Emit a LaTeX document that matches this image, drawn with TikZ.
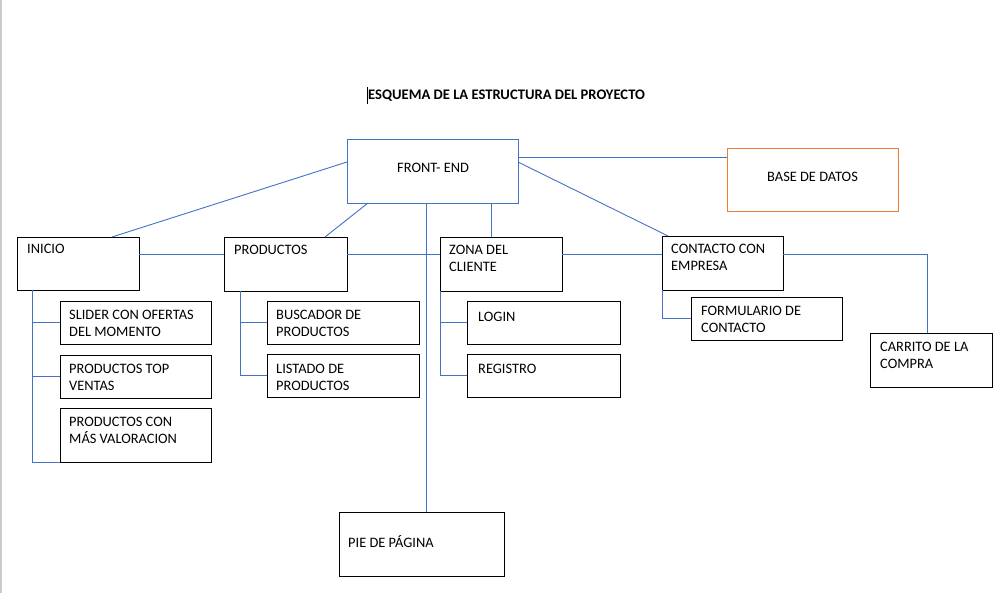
\documentclass[tikz,border=0pt]{standalone}
\usepackage{fontspec}
\setmainfont{Carlito}
\usetikzlibrary{calc}
\definecolor{lnblue}{HTML}{4472C4}
\definecolor{orng}{HTML}{ED7D31}
\tikzset{
  bbox/.style={draw=black, line width=0.9pt, inner sep=0pt, outer sep=0pt, anchor=north west, fill=white},
  febox/.style={bbox, draw=lnblue},
  dbbox/.style={bbox, draw=orng},
  lbl/.style={anchor=base west, inner sep=0pt, align=left, font=\fontsize{14.4}{17}\selectfont},
  conn/.style={draw=lnblue, line width=0.9pt},
}
\begin{document}
\begin{tikzpicture}[x=1pt,y=-1pt]
\useasboundingbox (0,0) rectangle (1003,593);
\fill[white] (0,0) rectangle (1003,593);
\fill[black!20] (0,0) rectangle (2,593);

% title
\node[lbl, font=\fontsize{14.6}{17}\selectfont\bfseries] (title) at (368,100) {ESQUEMA DE LA ESTRUCTURA DEL PROYECTO};
\draw[black, line width=0.8pt] (367,87) -- (367,104);

% boxes
\node[febox, minimum width=171, minimum height=64] (fe) at (347,139) {};
\node[dbbox, minimum width=171, minimum height=63] (bd) at (727,148) {};
\node[bbox, minimum width=122, minimum height=53] (ini) at (17,237) {};
\node[bbox, minimum width=123, minimum height=54] (prod) at (224,237) {};
\node[bbox, minimum width=122, minimum height=54] (zona) at (440,237) {};
\node[bbox, minimum width=121, minimum height=54] (cont) at (662,236) {};
\node[bbox, minimum width=151, minimum height=43] (sl) at (60,301) {};
\node[bbox, minimum width=151, minimum height=43] (top) at (60,355) {};
\node[bbox, minimum width=151, minimum height=54] (val) at (60,408) {};
\node[bbox, minimum width=152, minimum height=43] (bus) at (267,301) {};
\node[bbox, minimum width=152, minimum height=43] (lis) at (267,354) {};
\node[bbox, minimum width=153, minimum height=43] (log) at (467,301) {};
\node[bbox, minimum width=153, minimum height=43] (reg) at (467,354) {};
\node[bbox, minimum width=151, minimum height=43] (form) at (691,297) {};
\node[bbox, minimum width=122, minimum height=54] (car) at (870,333) {};
\node[bbox, minimum width=165, minimum height=64] (pie) at (339,512) {};

% texts (base anchor = baseline of last line)
\node[lbl] (tfe) at (397,173) {FRONT- END};
\node[lbl] (tbd) at (767,182) {BASE DE DATOS};
\node[lbl] (tini) at ($(ini.north west)+(10,17)$) {INICIO};
\node[lbl] (tprod) at ($(prod.north west)+(10,18)$) {PRODUCTOS};
\node[lbl] (tzona) at ($(zona.north west)+(9,35)$) {ZONA DEL\\CLIENTE};
\node[lbl] (tcont) at ($(cont.north west)+(9,35)$) {CONTACTO CON\\EMPRESA};
\node[lbl] (tsl) at ($(sl.north west)+(9,35)$) {SLIDER CON OFERTAS\\DEL MOMENTO};
\node[lbl] (ttop) at ($(top.north west)+(9,35)$) {PRODUCTOS TOP\\VENTAS};
\node[lbl] (tval) at ($(val.north west)+(9,35)$) {PRODUCTOS CON\\MÁS VALORACION};
\node[lbl] (tbus) at ($(bus.north west)+(9,35)$) {BUSCADOR DE\\PRODUCTOS};
\node[lbl] (tlis) at ($(lis.north west)+(9,36)$) {LISTADO DE\\PRODUCTOS};
\node[lbl] (tlog) at ($(log.north west)+(11,20)$) {LOGIN};
\node[lbl] (treg) at ($(reg.north west)+(11,19)$) {REGISTRO};
\node[lbl] (tform) at ($(form.north west)+(10,35)$) {FORMULARIO DE\\CONTACTO};
\node[lbl] (tcar) at ($(car.north west)+(10,35)$) {CARRITO DE LA\\COMPRA};
\node[lbl] (tpie) at (348,547) {PIE DE PÁGINA};

% connectors from FRONT-END
\draw[conn] ($(fe.north west)+(0,23)$) -- ($(ini.north west)+(95,0)$);
\draw[conn] ($(fe.south west)+(21,0)$) -- ($(prod.north west)+(101,0)$);
\draw[conn] ($(fe.south west)+(79,0)$) -- ($(pie.north west)+(87,0)$);
\draw[conn] ($(fe.south west)+(144,0)$) -- ($(zona.north west)+(51,0)$);
\draw[conn] ($(fe.north east)+(0,18)$) -- ($(bd.north west)+(0,9)$);
\draw[conn] ($(fe.north east)+(0,23)$) -- ($(cont.north west)+(6,0)$);

% horizontal chain
\draw[conn] ($(ini.north east)+(0,17)$) -- ($(prod.north west)+(0,17)$);
\draw[conn] ($(prod.north east)+(0,17)$) -- ($(zona.north west)+(0,17)$);
\draw[conn] ($(zona.north east)+(0,17)$) -- ($(cont.north west)+(0,18)$);
\draw[conn] ($(cont.north east)+(0,18)$) -| ($(car.north west)+(57,0)$);

% sub trees
\draw[conn] ($(ini.south west)+(15,0)$) |- (sl.west);
\draw[conn] ($(ini.south west)+(15,0)$) |- (top.west);
\draw[conn] ($(ini.south west)+(15,0)$) |- (val.south west);
\draw[conn] ($(prod.south west)+(16,0)$) |- (bus.west);
\draw[conn] ($(prod.south west)+(16,0)$) |- (lis.west);
\draw[conn] (zona.south west) |- (log.west);
\draw[conn] (zona.south west) |- (reg.west);
\draw[conn] (cont.south west) |- (form.west);
\end{tikzpicture}
\end{document}
